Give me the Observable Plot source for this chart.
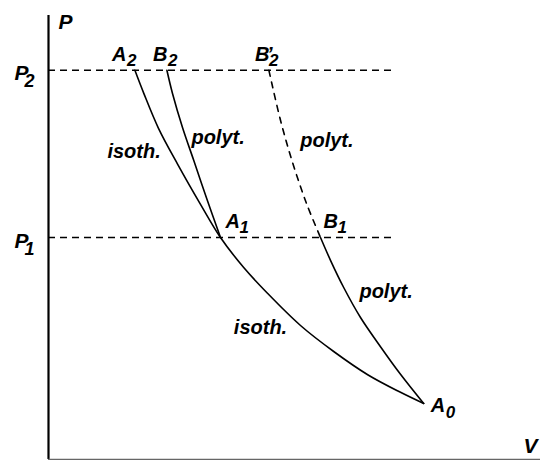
<!DOCTYPE html>
<html><head><meta charset="utf-8">
<script src="https://cdn.jsdelivr.net/npm/d3@7"></script>
<script src="https://cdn.jsdelivr.net/npm/@observablehq/plot@0.6"></script>
<style>body{margin:0;background:#fff;}</style>
</head><body><div id="chart"></div>
<script>
// ---- data (arbitrary V, P units) ----
const isothermV = [2.16, 2.38, 2.75, 3.23, 3.80, 4.30, 4.88, 5.48, 6.30, 7.13, 7.98, 8.80, 9.38];
const isothermP = [9.73, 9.16, 8.28, 7.38, 6.38, 5.55, 4.80, 4.15, 3.35, 2.70, 2.12, 1.68, 1.40];
const polyA1B2V = [2.96, 3.10, 3.35, 3.63, 3.97, 4.30];
const polyA1B2P = [9.73, 9.15, 8.30, 7.48, 6.48, 5.55];
const polyA0B1V = [6.80, 7.05, 7.38, 7.80, 8.30, 8.80, 9.38];
const polyA0B1P = [5.55, 4.98, 4.30, 3.55, 2.82, 2.13, 1.40];
const polyB1B2pV = [5.51, 5.80, 6.10, 6.45, 6.80];
const polyB1B2pP = [9.73, 8.48, 7.43, 6.40, 5.55];
const levelNames = ["P", "P"];
const levelSubs = ["2", "1"];
const levelP = [9.73, 5.55];
const isobarEndV = 8.68;
const pointNames = ["A", "B", "B", "A", "B", "A"];
const pointSubs = ["2", "2", "2", "1", "1", "0"];
const pointPrimes = ["", "", "’", "", "", ""];
const pointV = [2.16, 2.96, 5.51, 4.30, 6.80, 9.38];
const pointP = [9.73, 9.73, 9.73, 5.55, 5.55, 1.40];
const noteTexts = ["isoth.", "polyt.", "polyt.", "polyt.", "isoth."];
const noteV = [2.14, 4.24, 6.96, 8.44, 5.30];
const noteP = [7.53, 7.90, 7.82, 4.03, 3.15];
const axisNames = ["P", "V"];
const Vmax = 12.3, Pmax = 11.1;

// ---- layout ----
const F = "'Liberation Sans', Arial, Helvetica, sans-serif";
const base = {fontFamily: F, fontWeight: "bold", fontStyle: "italic", fill: "black", lineAnchor: "bottom", textAnchor: "start"};
const curve = (V, P) => V.map((v, i) => ({V: v, P: P[i]}));
const pointOffsets = [
  {b: [-23, -9], s: [-8, -4]},
  {b: [-14, -9], s: [1, -4]},
  {b: [-14, -9], s: [0, -4], p: [-2, -9]},
  {b: [5, -10], s: [19, -5]},
  {b: [3, -10], s: [17, -5]},
  {b: [7, 8], s: [22, 14]}
];
const points = pointV.map((v, i) => ({V: v, P: pointP[i], name: pointNames[i], sub: pointSubs[i], prime: pointPrimes[i]}));
const levels = levelP.map((p, i) => ({V: 0, P: p, name: levelNames[i], sub: levelSubs[i]}));
const notes = noteV.map((v, i) => ({V: v, P: noteP[i], t: noteTexts[i]}));

const marks = [
  Plot.ruleY(levels, {y: "P", x1: d => 0, x2: d => isobarEndV, stroke: "black", strokeWidth: 1.5, strokeDasharray: "7,5"}),
  Plot.line(curve(isothermV, isothermP), {x: "V", y: "P", curve: "catmull-rom", stroke: "black", strokeWidth: 1.6}),
  Plot.line(curve(polyA1B2V, polyA1B2P), {x: "V", y: "P", curve: "catmull-rom", stroke: "black", strokeWidth: 1.6}),
  Plot.line(curve(polyA0B1V, polyA0B1P), {x: "V", y: "P", curve: "catmull-rom", stroke: "black", strokeWidth: 1.6}),
  Plot.line(curve(polyB1B2pV, polyB1B2pP), {x: "V", y: "P", curve: "catmull-rom", stroke: "black", strokeWidth: 1.6, strokeDasharray: "6,6"}),
  Plot.ruleX([0], {y1: d => 0, y2: d => Pmax, stroke: "black", strokeWidth: 2.2}),
  Plot.ruleY([0], {stroke: "#666", strokeWidth: 1.5}),
  Plot.text(notes, {...base, x: "V", y: "P", text: "t", textAnchor: "middle", fontSize: 20}),
  Plot.text(levels, {...base, x: "V", y: "P", text: "name", fontSize: 21, dx: -34, dy: 10}),
  Plot.text(levels, {...base, x: "V", y: "P", text: "sub", fontSize: 18, dx: -24, dy: 17}),
  Plot.text([axisNames[0]], {...base, frameAnchor: "top-left", text: d => d, fontSize: 21, dx: 10, dy: 13}),
  Plot.text([axisNames[1]], {...base, frameAnchor: "bottom-right", text: d => d, textAnchor: "end", fontSize: 21, dx: -3, dy: -7})
];
points.forEach((pt, i) => {
  const o = pointOffsets[i];
  marks.push(Plot.text([pt], {...base, x: "V", y: "P", text: "name", fontSize: 20, dx: o.b[0], dy: o.b[1]}));
  marks.push(Plot.text([pt], {...base, x: "V", y: "P", text: "sub", fontSize: 17, dx: o.s[0], dy: o.s[1]}));
  if (o.p) marks.push(Plot.text([pt], {...base, x: "V", y: "P", text: "prime", fontSize: 20, dx: o.p[0], dy: o.p[1]}));
});

const chart = Plot.plot({
  width: 540, height: 460,
  marginLeft: 48, marginRight: 0, marginTop: 15, marginBottom: 1,
  x: {domain: [0, Vmax], axis: null},
  y: {domain: [0, Pmax], axis: null},
  style: {background: "white", fontFamily: F},
  marks
});
document.getElementById("chart").append(chart);
</script>
</body></html>
